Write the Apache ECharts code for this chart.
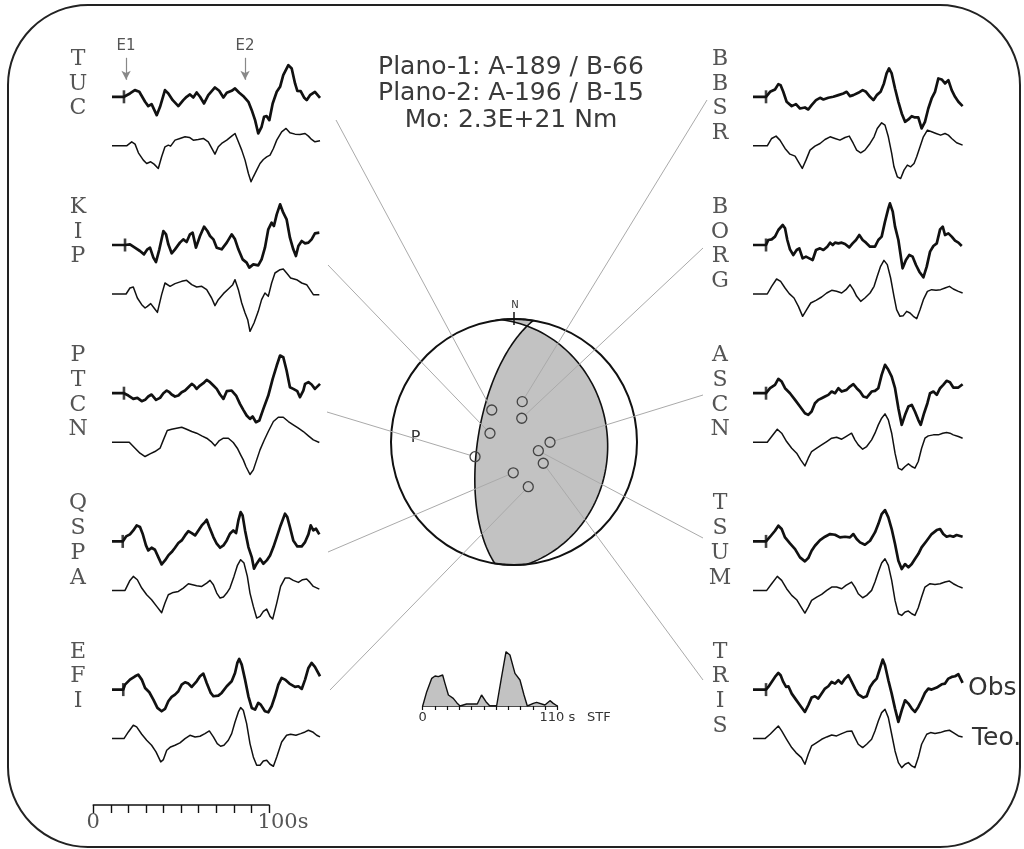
<!DOCTYPE html>
<html>
<head>
<meta charset="utf-8">
<script src="https://cdn.jsdelivr.net/npm/echarts@6/dist/echarts.min.js"></script>
<style>
html, body { margin: 0; background: #fff; }
#chart { width: 1024px; height: 849px; }
</style>
</head>
<body>
<div id="chart"></div>
<script>
// estaciones (columna izquierda y derecha)
const stationNames = ['TUC', 'KIP', 'PTCN', 'QSPA', 'EFI', 'BBSR', 'BORG', 'ASCN', 'TSUM', 'TRIS'];
// tiempo de la lectura P (s) en cada sismograma observado
const pickTimes = [6.8, 7.4, 6.8, 6.1, 6.4, 7.4, 7.4, 7.4, 7.4, 7.4];
// azimut y angulo de salida de cada estacion en la esfera focal
const stationAzimuth = [325.2, 290, 249.3, 181.4, 162.3, 11.5, 18.1, 90.4, 109.7, 126];
const stationTakeoff = [25.9, 16.9, 27.7, 20.4, 31.3, 27.4, 16.5, 23.9, 17.1, 24];
// planos nodales dibujados (rumbo, buzamiento)
const planeStrike = [189, 354];
const planeDip = [66, 25];
// eventos marcados sobre TUC
const eventNames = ['E1', 'E2'];
const eventTimes = [8.0, 75.6];

// sismogramas: [tiempo (s), amplitud]
const obsTUC = [[0,0],[6.8,0],[10.2,10],[13,20],[15.5,15],[18.8,-15],[20.6,-28],[22.5,-22],[25.4,-55],[27.3,-30],[30.1,20],[32,10],[34.5,-10],[37.7,-28],[40.5,-10],[42.4,0],[44.3,7],[46.2,-2],[48.1,13],[50,0],[52.3,-20],[54.7,5],[58.5,28],[60.9,18],[63.3,-2],[65.2,12],[68,18],[69.9,25],[72.3,12],[75,0],[77.5,-15],[79.4,-40],[81.3,-70],[83.1,-110],[85,-90],[86.4,-60],[87.9,-58],[89.4,-70],[91.3,-20],[93.6,15],[95.5,30],[97.3,65],[100.2,95],[102.1,85],[104,40],[105.3,18],[107.2,17],[109.1,-2],[110.6,-10],[112.5,5],[115.3,15],[118.2,-3]];
const synTUC = [[0,0],[8.3,0],[11.2,12],[13.1,5],[15,-21],[17.8,-43],[19.7,-53],[22,-48],[23.9,-55],[26.3,-68],[28.2,-33],[30.1,-3],[32,2],[33.3,-1],[35.8,17],[38.6,22],[41.5,27],[44,25],[46.2,17],[49,19],[51.9,22],[54.7,12],[58.5,-25],[60.4,-3],[62.3,7],[65.2,17],[68,29],[69.9,37],[71.8,12],[73.7,-13],[75.6,-43],[77.5,-83],[79,-108],[80.3,-93],[82.2,-73],[84.1,-53],[86,-41],[87.9,-33],[89.8,-28],[91.7,-8],[93.6,17],[96.4,42],[98.9,52],[101.1,39],[104,35],[106.8,34],[109.7,37],[111.6,29],[113.4,19],[115.3,12],[118.2,15]];
const obsKIP = [[0,0],[7.4,0],[10.2,2],[13,-8],[15.9,-18],[18.2,-28],[20.1,-13],[21.6,-8],[23.5,-38],[25,-51],[26.9,-13],[29.2,42],[30.7,32],[32,2],[33.9,-25],[35.8,-13],[38.6,7],[40.5,17],[42.4,9],[44.3,32],[45.8,37],[47.7,-8],[50,27],[52.3,55],[54.2,42],[55.7,27],[57.6,17],[59.5,-8],[62.3,-13],[65.2,7],[68,32],[69.9,17],[71.8,-13],[74.2,-43],[76.5,-53],[78,-68],[80.3,-58],[83.1,-61],[85,-43],[86.9,-8],[88.8,47],[90.7,67],[92,57],[93.6,92],[95.5,122],[97.3,97],[99.2,77],[101.1,22],[103,-13],[104.5,-33],[105.9,-3],[107.8,12],[109.7,5],[111.6,7],[113.4,17],[115.3,35],[117.8,37]];
const synKIP = [[0,0],[8,0],[10.2,18],[12.1,21],[14.4,-12],[16.9,-32],[18.8,-42],[20.1,-37],[22,-29],[23.9,-42],[25.8,-55],[28.2,-2],[30.1,33],[33,23],[35.8,31],[39.6,38],[42.4,41],[45.3,28],[48.1,21],[51,23],[53.8,13],[56.6,-12],[58.5,-35],[60.4,-17],[63.3,1],[66.1,15],[68.6,28],[69.9,43],[71.8,13],[73.7,-27],[75.6,-57],[77.1,-77],[78.4,-112],[80.7,-87],[83.1,-52],[85,-17],[86.9,3],[88.8,-7],[90.7,33],[92.6,63],[95.5,73],[97.3,75],[99.2,63],[101.5,48],[104.9,43],[107.8,33],[110.6,28],[112.5,13],[114.4,-2],[117.8,-2]];
const obsPTCN = [[0,0],[6.8,0],[9.3,-7],[12.1,-17],[14.4,-14],[16.9,-24],[18.8,-20],[20.6,-10],[22.5,-4],[25,-20],[27.3,-14],[29.2,0],[31.1,8],[32.6,3],[33.9,-4],[35.8,-10],[37.7,-7],[39.6,3],[41.5,8],[43.4,18],[45.3,28],[46.6,23],[48.1,13],[50,23],[51.9,30],[53.8,40],[55.7,33],[57.6,23],[59.5,13],[61.4,-4],[63.3,-17],[65.2,6],[68,8],[70.5,-7],[72.7,-32],[74.6,-50],[76.5,-67],[78.4,-77],[79.9,-70],[81.8,-87],[83.7,-82],[86,-47],[88.8,-7],[91.3,43],[93.6,83],[95.5,113],[97.3,108],[99.2,68],[101.1,18],[103,13],[105.3,6],[106.8,-12],[108.7,8],[109.7,28],[111.6,33],[113.4,26],[115.3,13],[118.2,28]];
const synPTCN = [[0,0],[9.8,0],[13.1,-18],[15.9,-33],[18.8,-43],[21.6,-35],[24.4,-28],[27.3,-18],[29.2,7],[31.4,35],[33.9,39],[36.7,42],[39.6,45],[42.4,39],[45.3,32],[48.1,27],[51,19],[53.8,12],[56.3,2],[58.5,-11],[61,5],[63.3,12],[66.1,12],[68.9,-1],[71.2,-18],[73.1,-38],[74.6,-53],[76.1,-73],[78.4,-97],[80.3,-83],[82.2,-53],[84.1,-23],[86.4,5],[88.8,32],[91.7,62],[94.5,75],[97.3,75],[100.2,62],[103,52],[105.9,42],[108.7,32],[111.6,19],[114.4,7],[117.8,-1]];
const obsQSPA = [[0,0],[6.1,0],[8,15],[10.2,21],[12.1,33],[14,48],[15.9,43],[17.4,23],[19.3,-12],[20.6,-27],[22.5,-19],[24.4,-25],[26.3,-47],[28.2,-69],[30.1,-57],[32,-42],[33.9,-32],[35.8,-19],[37.7,-5],[39.6,3],[41.5,18],[43.4,31],[45.3,25],[47.2,18],[49.1,33],[51,48],[52.8,58],[53.8,65],[55.3,43],[57.6,13],[59.5,-7],[61.4,-19],[63.3,-12],[65.2,3],[67,23],[68.9,33],[70.5,25],[71.8,63],[73.1,88],[74.2,78],[75.6,33],[77.5,-17],[79.4,-47],[80.7,-82],[82.2,-67],[84.1,-52],[86,-67],[87.9,-57],[89.8,-42],[91.7,-17],[93.6,13],[95.8,48],[98.3,83],[99.6,73],[101.1,43],[103,3],[105.3,-15],[107.8,-15],[109.7,-2],[111.6,21],[112.9,48],[114.4,33],[115.9,38],[117.8,21]];
const synQSPA = [[0,0],[7.4,0],[10.2,30],[12.1,42],[14.4,32],[16.9,7],[19.7,-13],[22.5,-28],[25.4,-48],[28.2,-67],[30.1,-38],[32,-13],[34.8,-6],[37.7,-3],[40.5,7],[43.4,20],[45.8,17],[48.1,14],[51,12],[53.8,22],[55.7,30],[57.6,17],[59.5,-8],[61.4,-23],[63.3,-20],[65.2,-8],[67,7],[69.3,42],[71.2,74],[73.1,92],[75,82],[76.9,42],[78.4,-8],[80.3,-48],[82.2,-83],[84.1,-78],[86,-63],[87.9,-56],[89.8,-78],[91.3,-86],[93.6,-38],[95.8,12],[98.3,37],[100.8,37],[103,30],[105.9,24],[108.3,32],[110.6,34],[112.5,24],[114.4,12],[117.8,4]];
const obsEFI = [[0,0],[6.4,0],[7.4,15],[10.2,30],[13.1,40],[14.9,45],[16.9,30],[18.8,5],[21.2,-8],[23.5,-30],[25.8,-55],[28.2,-65],[30.1,-58],[32,-35],[33.9,-22],[35.8,-15],[37.7,-5],[39.6,15],[41.5,22],[43.4,18],[45.3,8],[48.1,25],[50,40],[51.9,48],[53.8,20],[56.1,-10],[57.6,-20],[60.4,-18],[62.3,-10],[65.2,10],[68,25],[69.9,50],[71.2,80],[72.3,92],[73.7,75],[75.6,30],[77.5,-20],[79.4,-55],[81.3,-60],[83.1,-40],[84.5,-45],[86.9,-65],[88.8,-68],[90.7,-50],[92.6,-20],[94.5,15],[96.4,35],[98.3,30],[100.8,18],[104,8],[105.9,10],[107.8,2],[109.7,30],[111.6,65],[113.4,80],[115.3,68],[118.2,40]];
const synEFI = [[0,0],[6.8,0],[9.3,20],[12.1,40],[14,35],[16.9,13],[19.7,-5],[22.5,-20],[25,-40],[27.7,-70],[29.2,-63],[31.1,-35],[33.3,-25],[35.8,-20],[38.6,-13],[41.5,0],[44.3,10],[47.2,5],[50,7],[52.8,15],[55.3,23],[57.6,5],[59.8,-15],[61.7,-23],[63.6,-20],[66.1,-5],[68,15],[69.9,50],[71.8,80],[73.1,93],[74.6,85],[76.5,45],[78.4,-15],[80.3,-55],[82.2,-80],[84.1,-80],[86,-67],[87.9,-65],[89.8,-77],[91.7,-83],[93.6,-55],[96.4,-10],[99.2,10],[101.5,13],[104.5,10],[107.2,15],[109.7,20],[111.6,25],[114,20],[116.3,10],[118.2,5]];
const obsBBSR = [[0,0],[7.4,0],[9.7,15],[12.5,22],[14.4,38],[15.7,35],[17.2,15],[19.1,-15],[22,-28],[24.4,-22],[26.7,-35],[29.5,-32],[31.4,-38],[33.3,-25],[35.8,-10],[38.1,-3],[40,-8],[42.8,-3],[45.6,0],[48.5,5],[51.3,10],[53.2,15],[55.1,2],[57,5],[59.8,12],[62.3,20],[64.2,15],[66.5,0],[68.4,-10],[70.3,5],[72.5,15],[74.4,40],[75.9,70],[77.3,85],[78.8,70],[80.7,25],[82.6,-15],[84.5,-50],[86.4,-75],[88.3,-68],[90.2,-58],[92,-62],[93.9,-62],[95.8,-95],[97.7,-75],[99.6,-35],[101.5,-5],[103.4,15],[105.3,55],[107.2,52],[109.1,40],[111,50],[112.9,20],[114.8,0],[116.7,-15],[119.1,-28]];
const synBBSR = [[0,0],[8.1,0],[10.6,22],[13.1,29],[15.3,17],[18.2,-8],[21,-25],[23.9,-31],[25.8,-48],[28,-68],[30.1,-43],[32.4,-13],[35.2,-1],[38.1,7],[40.9,19],[43.8,27],[46.6,22],[49.4,17],[52.3,25],[54.7,29],[57,7],[58.9,-13],[61.2,-21],[63.6,-13],[66.5,7],[68.8,27],[70.6,52],[73.1,69],[75,62],[76.9,27],[78.8,-23],[80.1,-63],[82,-93],[83.9,-98],[85.8,-73],[87.7,-58],[89.6,-63],[91.5,-53],[93,-33],[94.9,-3],[96.8,27],[99.1,47],[101.5,42],[104,37],[106.6,32],[109.1,37],[111,32],[112.9,22],[115.7,9],[119.1,2]];
const obsBORG = [[0,0],[7.4,0],[8.7,15],[10.6,17],[12.5,25],[14.4,45],[16.9,60],[18.2,50],[19.5,15],[21,-13],[22.9,-30],[24.8,-15],[26.3,-10],[28.2,-40],[30.1,-35],[32,-40],[33.9,-45],[35.8,-15],[38.1,-10],[40,-15],[42.2,-5],[43.8,7],[45.3,0],[46.6,7],[48.5,5],[50.4,7],[52.3,3],[54.7,-7],[56.6,5],[58.5,15],[60.4,30],[62.3,15],[64.2,7],[66.5,-5],[69.3,-5],[71.2,15],[73.1,25],[75,70],[76.9,110],[77.8,125],[79.4,100],[80.7,55],[82.6,15],[85,-70],[86.9,-45],[88.8,-30],[90.7,-35],[92.6,-60],[94.5,-80],[96.8,-97],[98.7,-65],[100.6,-20],[102.5,-3],[104.4,5],[106.3,47],[107.8,55],[109.1,30],[111,35],[112.9,25],[114.8,13],[116.7,7],[118.6,-3]];
const synBORG = [[0,0],[8.1,0],[10.6,23],[13.4,45],[15.7,38],[18.2,18],[20.6,1],[23.3,-12],[25.8,-37],[28.2,-67],[30.5,-47],[32.8,-27],[35.8,-19],[39,-9],[41.9,3],[44.7,11],[47.5,8],[50.4,3],[52.8,13],[55.1,28],[57,13],[58.9,-7],[61.2,-22],[63.6,-12],[66.5,3],[68.8,23],[70.6,53],[72.5,83],[74.4,101],[76.3,88],[78.2,48],[80.1,-7],[81.6,-47],[83.5,-67],[85.4,-65],[87.3,-52],[89.2,-57],[91.1,-67],[93,-74],[94.9,-47],[96.8,-17],[99.1,8],[101.5,13],[104,11],[106.6,13],[109.1,18],[111.6,23],[113.8,15],[116.7,8],[119.1,3]];
const obsASCN = [[0,0],[7.4,0],[9.7,15],[12.5,25],[14.4,43],[16.3,35],[18.2,15],[21,0],[23.9,-20],[26.7,-40],[29.5,-60],[31.4,-65],[33.3,-55],[35.2,-30],[37.1,-20],[39,-15],[40.9,-10],[42.8,-5],[44.7,5],[46.6,0],[48.5,15],[50.4,5],[53.2,10],[55.1,20],[57,27],[58.9,15],[60.8,5],[62.7,-10],[64.6,-13],[67.4,5],[69.3,7],[71.2,15],[73.1,55],[75,85],[76.9,70],[78.8,50],[80.7,15],[82.6,-45],[84.5,-95],[86.4,-65],[88.3,-40],[90.2,-35],[92,-55],[93.9,-80],[95.3,-95],[97.2,-60],[99.1,-30],[100.6,0],[102.5,5],[104.4,-5],[106.3,15],[108.1,25],[110,37],[111.9,33],[113.8,17],[116.7,17],[119.1,27]];
const synASCN = [[0,0],[8.1,0],[10.6,17],[13.8,39],[16.3,27],[19.1,2],[22,-18],[24.8,-33],[27.1,-53],[29.5,-71],[31.4,-48],[33.3,-28],[36.2,-18],[39,-8],[41.9,2],[44.7,12],[47.5,15],[50.4,9],[52.8,17],[56,27],[57.9,7],[59.8,-8],[62.3,-21],[64.6,-13],[67.4,7],[69.3,27],[71.2,52],[73.1,72],[75,85],[76.9,67],[78.8,27],[80.7,-33],[82.6,-78],[84.5,-83],[86.4,-73],[88.3,-65],[90.2,-73],[92,-78],[93.9,-58],[95.8,-18],[97.7,12],[99.6,19],[102.5,22],[105.3,22],[107.8,27],[110,29],[111.9,27],[113.8,22],[116.7,17],[119.1,12]];
const obsTSUM = [[0,0],[7.4,0],[9.7,14],[12.5,32],[14.4,47],[16.3,37],[18.2,12],[21,-6],[23.9,-23],[26.7,-48],[29.5,-60],[31.4,-50],[33.3,-28],[35.2,-13],[38.1,4],[40.9,14],[43.8,22],[46.6,20],[49.4,12],[52.3,14],[55.1,12],[57,22],[58.9,7],[60.8,-3],[63.6,-10],[66.5,2],[69.3,27],[71.2,52],[73.1,82],[75,94],[76.9,72],[78.8,37],[80.7,-8],[82.6,-58],[84.5,-83],[86.4,-68],[88.3,-78],[90.2,-68],[92,-53],[93.9,-38],[95.8,-18],[98.7,2],[101.5,22],[104.4,34],[106.3,37],[108.1,22],[110,14],[111.9,17],[113.8,14],[115.7,19],[119.1,14]];
const synTSUM = [[0,0],[7.8,0],[10.6,20],[13.8,42],[16.3,30],[19.1,5],[22,-15],[24.8,-28],[27.1,-48],[29.5,-68],[31.4,-50],[33.3,-30],[36.2,-20],[39,-12],[41.9,0],[44.7,10],[47.5,10],[50.4,5],[52.8,15],[56,25],[57.9,10],[59.8,-10],[62.3,-22],[64.6,-15],[67.4,0],[69.3,25],[71.2,55],[73.1,82],[75,95],[76.9,75],[78.8,30],[80.7,-30],[82.6,-70],[84.5,-75],[86.4,-65],[88.3,-62],[90.2,-70],[92,-75],[93.9,-52],[95.8,-20],[97.7,10],[100.6,20],[103.4,18],[106.3,20],[109.1,25],[111.6,28],[113.8,20],[116.7,12],[119.1,7]];
const obsTRIS = [[0,0],[7.4,0],[8.7,8],[10.6,23],[12.5,38],[14.4,50],[15.7,43],[17.2,23],[18.8,8],[20.1,10],[22,-12],[24.4,-30],[26.7,-47],[29.5,-67],[31.4,-47],[33.3,-24],[35.2,-20],[37.1,-27],[39,-12],[40.9,3],[42.8,10],[44.7,23],[46.6,18],[48.5,28],[50.4,18],[52.3,33],[54.2,43],[56.1,23],[58,3],[59.8,-14],[62.7,-24],[64.6,-20],[66.5,8],[68.4,23],[70.3,33],[71.8,58],[73.7,90],[75,73],[76.9,28],[78.8,-12],[80.7,-57],[82.6,-97],[84.5,-62],[86.4,-32],[88.3,-42],[90.2,-57],[92,-67],[93.9,-52],[95.8,-32],[97.7,-10],[99.6,3],[101.5,0],[104.4,6],[107.2,16],[109.1,18],[111,33],[112.9,38],[114.8,40],[116.7,46],[119.1,20]];
const synTRIS = [[0,0],[6.8,0],[9.7,13],[12.5,28],[14.4,38],[16.3,23],[19.1,-2],[22,-27],[24.4,-42],[27.5,-57],[29.5,-77],[31.4,-47],[33.3,-22],[36.2,-12],[39,-2],[41.9,5],[44.7,11],[47.5,8],[50.4,15],[53.2,21],[56.1,23],[57.9,3],[59.8,-17],[62.3,-27],[64.6,-17],[67.4,-2],[69.3,23],[71.2,53],[73.1,78],[75,88],[76.9,63],[78.8,13],[80.7,-37],[82.6,-72],[84.5,-87],[86.4,-77],[88.3,-72],[90.2,-82],[92,-87],[93.9,-57],[95.8,-17],[98.7,13],[100.9,18],[103.4,15],[106.3,18],[109.1,23],[111.6,25],[113.8,18],[116.7,8],[119.1,5]];

// funcion temporal de la fuente (STF): [tiempo (s), amplitud]
const stf = [[0,0],[3.3,43],[7.4,83],[10.1,90],[12.8,88],[16.3,93],[18.2,68],[21,33],[25,23],[27.8,10],[30.5,0],[35.9,6],[44.6,6],[48.1,33],[51.7,13],[54.9,0],[60.4,0],[64.5,88],[68.1,163],[71.3,153],[75.4,98],[79.5,78],[82.8,33],[85.5,0],[90.4,8],[93.1,11],[99.9,3],[104,16],[106.7,8],[110,0]];

const obsTraces = [obsTUC, obsKIP, obsPTCN, obsQSPA, obsEFI, obsBBSR, obsBORG, obsASCN, obsTSUM, obsTRIS];
const synTraces = [synTUC, synKIP, synPTCN, synQSPA, synEFI, synBBSR, synBORG, synASCN, synTSUM, synTRIS];

// ---- maquetacion ----
const COL_X = [112, 753];
const LABEL_X = [78, 720];
const ROW0 = 96.8;
const ROW_STEP = 148.2;
const SYN_GAP = 49;
const PX_PER_S = 1.76;
const T_MAX = 120;
const AMP = 150;
// extremo exterior de cada linea que une la estacion con su sismograma
const linkEnds = [[336, 120], [328, 265], [327, 412], [328, 552], [330, 690], [707, 100], [703, 248], [703, 395], [703, 538], [703, 680]];
const BALL = { cx: 514, cy: 442, r: 123 };
const INK = '#111';
const GREY_TXT = '#555';

const D2R = Math.PI / 180;
// proyeccion de igual area (hemisferio inferior)
function project(trend, plunge) {
    const r = Math.SQRT2 * Math.sin((90 - plunge) * D2R / 2);
    return [r * Math.sin(trend * D2R), r * Math.cos(trend * D2R)];
}
function planeCurve(strike, dip) {
    const s = strike * D2R, d = dip * D2R;
    const sv = [Math.cos(s), Math.sin(s), 0];
    const dv = [Math.cos(d) * Math.cos(s + Math.PI / 2), Math.cos(d) * Math.sin(s + Math.PI / 2), Math.sin(d)];
    const pts = [];
    for (let k = 0; k <= 90; k++) {
        const l = k * 2 * D2R;
        const v = [0, 1, 2].map(j => Math.cos(l) * sv[j] + Math.sin(l) * dv[j]);
        const plunge = Math.asin(Math.min(1, v[2])) / D2R;
        const trend = Math.atan2(v[1], v[0]) / D2R;
        pts.push(project(trend, plunge));
    }
    return pts;
}
function arc(a1, a2) {
    const pts = [];
    const n = 20;
    for (let k = 0; k <= n; k++) {
        const a = (a1 + (a2 - a1) * k / n) * D2R;
        pts.push([Math.sin(a), Math.cos(a)]);
    }
    return pts;
}

const grids = [], xAxes = [], yAxes = [], series = [];
function addGrid(g, x, y) {
    const i = grids.length;
    grids.push(g);
    xAxes.push(Object.assign({ gridIndex: i }, x));
    yAxes.push(Object.assign({ gridIndex: i }, y));
    return i;
}
const hiddenX = { type: 'value', min: 0, max: T_MAX, show: false };
const hiddenY = { type: 'value', min: -AMP, max: AMP, show: false };

const graphics = [];

stationNames.forEach((name, i) => {
    const col = i < 5 ? 0 : 1;
    const row = i % 5;
    const base = ROW0 + row * ROW_STEP;
    const gObs = addGrid({ left: COL_X[col], top: base - 50, width: T_MAX * PX_PER_S, height: 100 }, hiddenX, hiddenY);
    const obsSeries = {
        type: 'line', xAxisIndex: gObs, yAxisIndex: gObs, data: obsTraces[i],
        showSymbol: false, silent: true, z: 5,
        lineStyle: { color: INK, width: 2.7, join: 'round' }
    };
    if (i === 0) {
        obsSeries.markLine = {
            silent: true,
            symbol: ['none', 'arrow'],
            symbolSize: [7, 9],
            lineStyle: { color: '#888', width: 1.2, type: 'solid' },
            label: { show: true, position: 'start', formatter: p => p.name, color: '#555', fontFamily: 'DejaVu Sans', fontSize: 15, distance: 4 },
            data: eventNames.map((n, k) => [{ name: n, coord: [eventTimes[k], 117] }, { coord: [eventTimes[k], 51] }])
        };
    }
    series.push(obsSeries);
    series.push({
        type: 'scatter', xAxisIndex: gObs, yAxisIndex: gObs, data: [[pickTimes[i], 0]],
        symbol: 'rect', symbolSize: [2.6, 13], itemStyle: { color: INK }, silent: true, z: 6
    });
    const gSyn = addGrid({ left: COL_X[col], top: base + SYN_GAP - 50, width: T_MAX * PX_PER_S, height: 100 }, hiddenX, hiddenY);
    series.push({
        type: 'line', xAxisIndex: gSyn, yAxisIndex: gSyn, data: synTraces[i],
        showSymbol: false, silent: true, z: 5,
        lineStyle: { color: INK, width: 1.5, join: 'round' }
    });
    graphics.push({
        type: 'text', z: 10,
        style: {
            text: name.split('').join('\n'), x: LABEL_X[col], y: base - 50,
            fill: GREY_TXT, font: '22px "DejaVu Serif"', lineHeight: 24.7,
            textAlign: 'center', align: 'center', textVerticalAlign: 'top', verticalAlign: 'top'
        }
    });
});

// esfera focal
const gBall = addGrid(
    { left: BALL.cx - 1.05 * BALL.r, top: BALL.cy - 1.05 * BALL.r, width: 2.1 * BALL.r, height: 2.1 * BALL.r },
    { type: 'value', min: -1.05, max: 1.05, show: false },
    { type: 'value', min: -1.05, max: 1.05, show: false }
);
series.push({
    type: 'custom', xAxisIndex: gBall, yAxisIndex: gBall, data: [[0, 0]], silent: true, clip: false, z: 2,
    renderItem: (params, api) => {
        const c = api.coord([0, 0]);
        const R = api.size([1, 1])[0];
        const c1 = planeCurve(planeStrike[0], planeDip[0]).reverse();
        const c2 = planeCurve(planeStrike[1], planeDip[1]).reverse();
        const poly = [].concat(c1, arc(planeStrike[0], planeStrike[1] + 180 - 360), c2, arc(planeStrike[1], planeStrike[0] + 180))
            .map(p => api.coord(p));
        const top = api.coord([0, 1]);
        const pPos = api.coord([-0.8, 0.03]);
        return {
            type: 'group',
            children: [
                { type: 'circle', shape: { cx: c[0], cy: c[1], r: R }, style: { fill: '#fff', stroke: 'none' } },
                { type: 'polygon', shape: { points: poly }, style: { fill: '#c2c2c2', stroke: INK, lineWidth: 1.6 } },
                { type: 'circle', shape: { cx: c[0], cy: c[1], r: R }, style: { fill: 'none', stroke: INK, lineWidth: 2 } },
                { type: 'line', shape: { x1: top[0], y1: top[1] - 7, x2: top[0], y2: top[1] + 6 }, style: { stroke: INK, lineWidth: 1.5 } },
                { type: 'text', style: { text: 'N', x: top[0] + 1, y: top[1] - 14, fill: '#333', font: '10px "DejaVu Sans"', align: 'center', verticalAlign: 'middle', textAlign: 'center', textVerticalAlign: 'middle' } },
                { type: 'text', style: { text: 'P', x: pPos[0], y: pPos[1], fill: '#333', font: '16px "DejaVu Sans"', align: 'center', verticalAlign: 'middle', textAlign: 'center', textVerticalAlign: 'middle' } }
            ]
        };
    }
});
// estaciones sobre la esfera y lineas hacia los sismogramas
series.push({
    type: 'custom', xAxisIndex: gBall, yAxisIndex: gBall, silent: true, clip: false, z: 3,
    data: stationAzimuth.map((az, i) => project(az, 90 - stationTakeoff[i])),
    renderItem: (params, api) => {
        const p = api.coord([api.value(0), api.value(1)]);
        const e = linkEnds[params.dataIndex];
        const dx = e[0] - p[0], dy = e[1] - p[1];
        const len = Math.sqrt(dx * dx + dy * dy);
        const r = 5;
        return {
            type: 'group',
            children: [
                { type: 'line', shape: { x1: p[0] + dx / len * r, y1: p[1] + dy / len * r, x2: e[0], y2: e[1] }, style: { stroke: '#aaa', lineWidth: 1 } },
                { type: 'circle', shape: { cx: p[0], cy: p[1], r: r }, style: { fill: 'none', stroke: '#444', lineWidth: 1.3 } }
            ]
        };
    }
});

// STF
const gStf = addGrid(
    { left: 422.7, top: 646, width: 134.6, height: 60 },
    {
        type: 'value', min: 0, max: 110, interval: 10,
        axisLine: { lineStyle: { color: INK, width: 1.5 } },
        axisTick: { show: true, length: 4, lineStyle: { color: INK, width: 1.2 } },
        splitLine: { show: false },
        axisLabel: { formatter: v => v === 0 ? '0' : v === 110 ? '110 s' : '', color: '#333', fontFamily: 'DejaVu Sans', fontSize: 13, margin: 5 }
    },
    { type: 'value', min: 0, max: 180, show: false }
);
series.push({
    type: 'line', xAxisIndex: gStf, yAxisIndex: gStf, data: stf, showSymbol: false, silent: true,
    lineStyle: { color: INK, width: 1.4 }, areaStyle: { color: '#c2c2c2', opacity: 1 }
});

// barra de escala 0-100 s
addGrid(
    { left: 93.3, top: 795, width: 175.7, height: 10 },
    {
        type: 'value', min: 0, max: 100, interval: 10,
        axisLine: { lineStyle: { color: INK, width: 1.6 } },
        axisTick: { show: true, length: 8, lineStyle: { color: INK, width: 1.4 } },
        splitLine: { show: false },
        axisLabel: {
            formatter: v => v === 0 ? '0' : v === 100 ? '{s|100s}' : '',
            color: GREY_TXT, fontFamily: 'DejaVu Serif', fontSize: 21, margin: 7,
            rich: { s: { padding: [0, 0, 0, 28], fontFamily: 'DejaVu Serif', fontSize: 21, color: GREY_TXT } }
        }
    },
    { type: 'value', min: 0, max: 1, show: false }
);

// marco, textos
graphics.push({
    type: 'rect', z: 0, silent: true,
    shape: { x: 8, y: 5, width: 1012, height: 842, r: 80 },
    style: { fill: 'none', stroke: '#222', lineWidth: 2 }
});
graphics.push({
    type: 'text', z: 10,
    style: {
        text: 'Plano-1: A-189 / B-66\nPlano-2: A-196 / B-15\nMo: 2.3E+21 Nm',
        x: 511, y: 93.5, fill: '#3a3a3a', font: '25px "DejaVu Sans"', lineHeight: 26.5,
        textAlign: 'center', align: 'center', textVerticalAlign: 'middle', verticalAlign: 'middle'
    }
});
graphics.push({
    type: 'text', z: 10,
    style: { text: 'STF', x: 587, y: 718, fill: '#333', font: '13px "DejaVu Sans"', textVerticalAlign: 'middle', verticalAlign: 'middle' }
});
graphics.push({
    type: 'text', z: 10,
    style: { text: 'Obs', x: 968, y: 688, fill: '#333', font: '25px "DejaVu Sans"', textVerticalAlign: 'middle', verticalAlign: 'middle' }
});
graphics.push({
    type: 'text', z: 10,
    style: { text: 'Teo.', x: 972, y: 738, fill: '#333', font: '25px "DejaVu Sans"', textVerticalAlign: 'middle', verticalAlign: 'middle' }
});

const myChart = echarts.init(document.getElementById('chart'), null, { renderer: 'canvas' });
myChart.setOption({
    backgroundColor: '#fff',
    animation: false,
    grid: grids,
    xAxis: xAxes,
    yAxis: yAxes,
    series: series,
    graphic: graphics
});
</script>
</body>
</html>
